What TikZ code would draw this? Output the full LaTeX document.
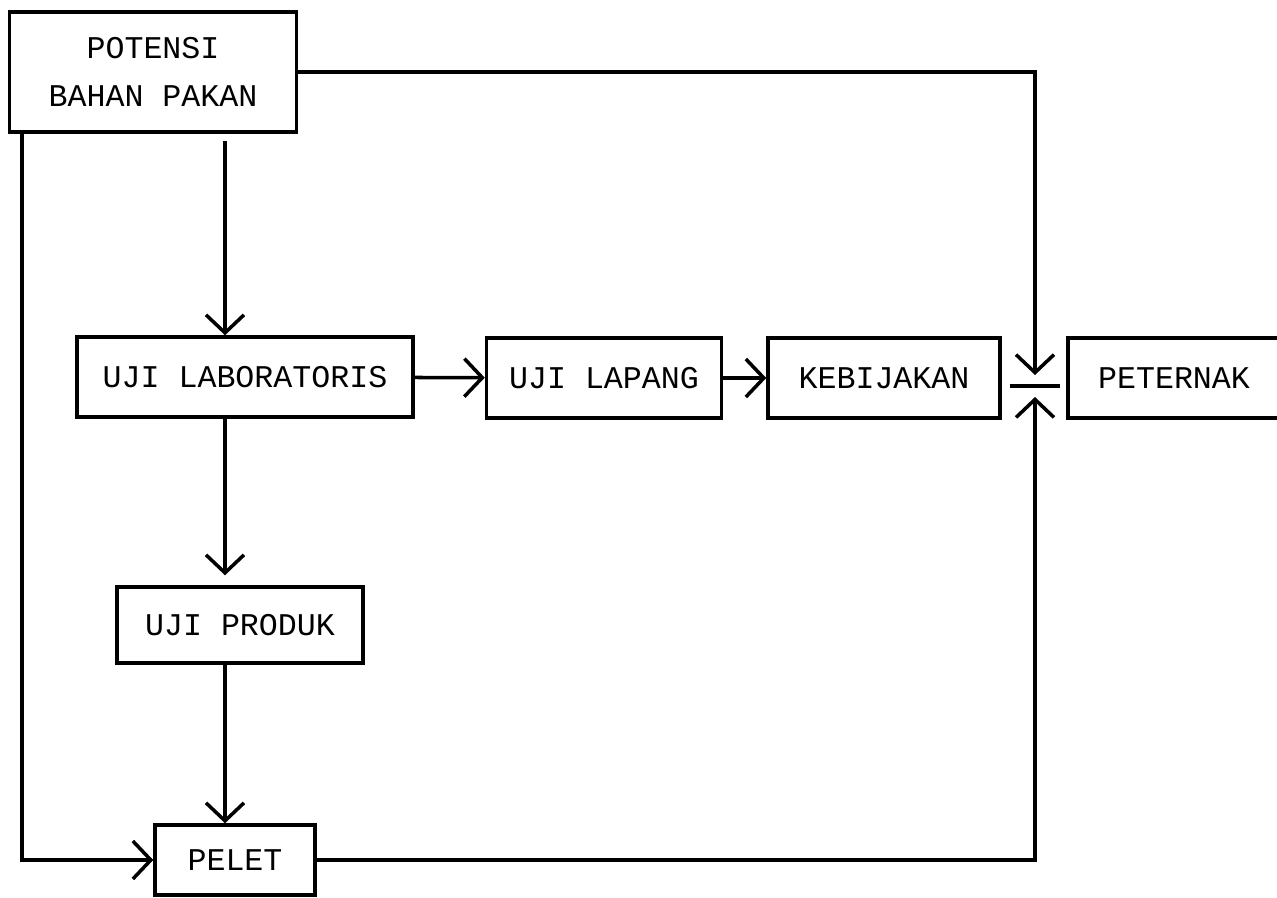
\documentclass[tikz,border=0pt]{standalone}
\usepackage{fontspec}
\newfontfamily\dotfont{Liberation Mono}
\usetikzlibrary{arrows.meta}

\begin{document}
\begin{tikzpicture}[x=0.02cm,y=-0.02cm,line width=2pt,
		>={Straight Barb[length=0.36cm,width=0.76cm]},
		box/.style={draw,inner sep=0pt,font=\dotfont\fontsize{18}{27}\selectfont,minimum height=1.6cm}]
		\useasboundingbox (0,0) rectangle (1277,897);
		\node[box,minimum width=5.74cm,minimum height=2.4cm,align=center] (pot) at (153,72) {POTENSI\\BAHAN PAKAN};
		\node[box,minimum width=6.72cm] (lab) at (245,377) {UJI LABORATORIS};
		\node[box,minimum width=4.7cm] (lap) at (604,378) {UJI LAPANG};
		\node[box,minimum width=4.64cm] (keb) at (884,378) {KEBIJAKAN};
		\node[box,minimum width=4.24cm] (pet) at (1174,378) {PETERNAK};
		\node[box,minimum width=4.92cm,minimum height=1.52cm] (prod) at (240,625) {UJI PRODUK};
		\node[box,minimum width=3.2cm,minimum height=1.4cm] (pel) at (235,860) {PELET};
		\coordinate (col) at (225,0);
		\coordinate (lft) at (22,0);
		\coordinate (dn) at (1035,375);
		\coordinate (up) at (1035,397);
		\coordinate (bl) at (1010,386);
		\coordinate (br) at (1060,386);
		\draw[->] ([yshift=-0.14cm]pot.south -| col) -- (lab.north -| col);
		\draw[->] (lab.south -| col) -- ([yshift=0.2cm]prod.north -| col);
		\draw[->] (prod.south -| col) -- (pel.north -| col);
		\draw[->] (pot.south -| lft) |- (pel.west);
		\draw[->] (lab) -- (lap);
		\draw[->] (lap) -- (keb);
		\draw[->] (pot.east) -| (dn);
		\draw[->] (pel.east) -| (up);
		\draw (bl) -- (br);
\end{tikzpicture}
\end{document}
